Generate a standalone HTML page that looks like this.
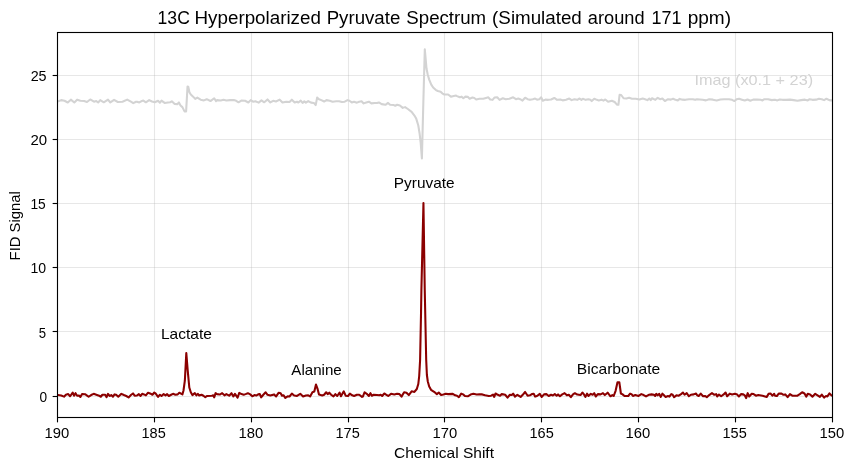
<!DOCTYPE html>
<html>
<head>
<meta charset="utf-8">
<title>13C Hyperpolarized Pyruvate Spectrum</title>
<style>
html,body{margin:0;padding:0;background:#ffffff;}
body{width:855px;height:470px;overflow:hidden;font-family:"Liberation Sans",sans-serif;}
svg{display:block;will-change:transform;}
</style>
</head>
<body>
<svg width="855" height="470" viewBox="0 0 855 470">
<rect x="0" y="0" width="855" height="470" fill="#ffffff"/>
<g stroke="#b0b0b0" stroke-opacity="0.3" stroke-width="1.11" fill="none">
<line x1="57.50" y1="32.50" x2="57.50" y2="417.50"/>
<line x1="154.50" y1="32.50" x2="154.50" y2="417.50"/>
<line x1="251.50" y1="32.50" x2="251.50" y2="417.50"/>
<line x1="348.50" y1="32.50" x2="348.50" y2="417.50"/>
<line x1="444.50" y1="32.50" x2="444.50" y2="417.50"/>
<line x1="541.50" y1="32.50" x2="541.50" y2="417.50"/>
<line x1="638.50" y1="32.50" x2="638.50" y2="417.50"/>
<line x1="735.50" y1="32.50" x2="735.50" y2="417.50"/>
<line x1="832.50" y1="32.50" x2="832.50" y2="417.50"/>
<line x1="57.50" y1="396.50" x2="832.50" y2="396.50"/>
<line x1="57.50" y1="331.50" x2="832.50" y2="331.50"/>
<line x1="57.50" y1="267.50" x2="832.50" y2="267.50"/>
<line x1="57.50" y1="203.50" x2="832.50" y2="203.50"/>
<line x1="57.50" y1="139.50" x2="832.50" y2="139.50"/>
<line x1="57.50" y1="75.50" x2="832.50" y2="75.50"/>
</g>
<clipPath id="ax"><rect x="57.50" y="32.50" width="775.00" height="385.00"/></clipPath>
<g clip-path="url(#ax)" fill="none" stroke-linejoin="round" stroke-linecap="butt" stroke-width="2.08">
<path d="M57.50,101.33 L58.40,101.33 L61.21,100.12 L64.49,100.77 L67.76,102.46 L70.85,99.65 L74.31,102.46 L77.12,99.65 L80.39,100.77 L84.13,101.05 L86.94,101.99 L90.22,99.46 L93.96,101.71 L96.30,101.05 L98.17,102.46 L100.23,100.12 L103.78,102.27 L107.99,99.65 L110.33,102.46 L114.08,99.84 L117.82,101.99 L122.50,101.71 L127.18,99.65 L130.92,101.71 L133.26,103.20 L136.06,101.71 L137.00,101.71 L139.34,102.46 L141.21,101.33 L143.36,100.58 L145.89,102.27 L149.16,100.12 L151.97,101.52 L154.78,102.27 L158.05,100.77 L159.92,102.64 L161.51,100.58 L164.60,102.92 L167.88,102.46 L170.22,102.27 L171.81,101.33 L174.43,103.86 L177.23,104.14 L178.92,102.46 L180.51,105.45 L182.38,107.13 L184.53,111.35 L186.12,111.35 L187.53,86.55 L188.27,86.74 L189.40,92.16 L190.80,94.50 L193.14,96.65 L195.20,98.90 L197.35,97.59 L200.63,99.65 L203.90,100.40 L206.71,99.18 L210.45,101.05 L214.19,98.25 L216.06,101.05 L217.00,100.12 L220.74,100.58 L223.55,99.84 L226.36,100.58 L230.10,100.12 L233.84,100.12 L236.18,100.77 L238.52,102.27 L241.33,100.58 L245.07,100.77 L248.35,102.46 L250.68,100.12 L253.02,101.71 L255.36,101.33 L258.64,102.64 L261.44,100.40 L264.25,102.27 L267.53,99.46 L270.33,102.46 L273.14,100.77 L275.95,101.52 L279.69,99.65 L282.50,102.46 L286.24,101.71 L289.51,101.99 L291.85,99.65 L294.66,102.46 L297.00,101.71 L298.40,102.46 L300.74,100.58 L302.61,102.92 L304.30,101.33 L305.89,102.64 L308.23,101.05 L311.04,102.64 L313.84,102.92 L315.71,105.08 L317.12,97.59 L318.99,99.18 L321.33,100.12 L324.13,101.52 L326.47,100.12 L329.75,100.77 L332.56,101.71 L336.30,101.33 L339.11,101.33 L341.91,101.99 L344.72,101.71 L347.53,100.12 L349.40,100.77 L351.74,102.46 L354.08,101.71 L356.88,102.64 L359.22,101.71 L361.56,101.33 L363.62,103.39 L366.24,102.46 L368.86,101.71 L371.39,103.39 L374.66,102.92 L377.00,102.92 L378.87,102.46 L381.68,104.14 L385.42,104.80 L388.04,102.92 L390.10,104.80 L393.84,105.08 L395.25,105.73 L397.12,104.80 L399.92,105.45 L402.73,107.88 L405.07,107.13 L407.88,109.01 L411.62,111.81 L414.43,115.56 L416.30,118.83 L418.30,125.50 L419.60,133.50 L420.70,142.90 L421.90,158.50 L423.35,102.00 L424.80,49.40 L426.50,68.50 L427.70,74.50 L429.20,79.60 L431.27,84.68 L433.14,87.49 L435.95,90.11 L437.82,91.04 L440.63,91.70 L442.50,93.57 L444.37,94.50 L448.11,94.50 L450.92,96.65 L453.73,95.91 L456.06,95.53 L457.00,96.09 L459.81,97.31 L461.68,96.65 L463.36,98.25 L465.42,96.65 L467.76,96.84 L469.63,98.71 L472.44,97.59 L474.31,97.96 L476.18,99.46 L479.46,98.71 L483.20,98.71 L486.01,97.96 L488.35,97.31 L490.22,99.46 L492.56,99.84 L494.43,97.59 L497.23,97.31 L499.57,99.84 L502.85,98.25 L505.65,99.18 L509.40,98.71 L513.14,97.31 L515.95,99.18 L518.29,98.53 L520.16,99.18 L522.50,100.58 L525.12,97.78 L527.64,99.18 L529.98,99.84 L532.79,99.18 L535.13,98.53 L537.00,99.65 L539.34,99.18 L541.21,97.31 L542.80,100.77 L545.42,99.65 L548.23,99.84 L551.04,99.46 L554.31,97.96 L557.12,99.84 L560.39,99.46 L562.73,100.40 L566.01,99.84 L569.28,98.53 L571.62,100.12 L574.43,99.18 L577.23,99.84 L579.57,98.53 L581.44,99.84 L582.85,98.71 L585.65,99.84 L588.46,99.18 L590.33,99.65 L591.74,101.05 L594.26,98.71 L596.88,99.84 L598.75,100.40 L601.56,99.65 L603.43,100.58 L605.30,99.46 L608.11,101.71 L611.85,100.77 L614.66,101.99 L617.00,104.60 L618.40,104.80 L619.60,94.80 L621.20,95.00 L623.55,98.25 L626.36,98.53 L629.16,97.78 L631.97,98.71 L635.71,98.71 L639.46,99.46 L642.73,98.53 L645.07,99.18 L647.41,100.12 L649.28,98.53 L650.68,100.12 L652.09,98.25 L655.36,99.84 L657.70,97.78 L660.04,99.18 L662.38,98.53 L664.91,101.05 L667.99,99.18 L670.80,99.65 L673.14,98.71 L675.48,99.84 L677.82,100.40 L679.69,98.90 L682.50,99.65 L685.30,99.84 L689.05,99.18 L692.79,99.18 L695.13,99.84 L697.00,99.18 L699.81,99.46 L702.61,99.84 L705.89,100.40 L709.16,99.18 L712.91,99.65 L716.65,100.40 L720.39,99.46 L724.13,99.18 L728.81,99.18 L732.09,99.84 L734.43,101.05 L736.77,99.18 L739.11,98.71 L741.91,99.65 L744.72,100.58 L747.53,99.46 L750.33,100.77 L753.14,99.65 L756.88,99.46 L760.63,99.84 L762.50,100.40 L764.37,99.18 L768.11,99.18 L771.85,100.12 L774.19,99.84 L775.00,99.84 L777.34,100.40 L779.68,99.46 L782.49,99.84 L786.23,99.84 L789.97,99.65 L793.71,100.12 L797.46,100.77 L801.20,100.12 L804.94,99.65 L807.75,100.40 L809.62,99.18 L812.43,99.84 L816.17,99.65 L818.98,98.71 L821.78,99.18 L824.12,100.12 L826.46,98.71 L829.27,100.12 L831.14,100.40 L832.50,100.12" stroke="#d3d3d3"/>
<path d="M57.50,395.05 L57.94,395.05 L61.21,395.52 L64.02,396.64 L65.89,394.77 L68.23,394.12 L70.10,396.27 L72.72,392.53 L74.03,395.71 L75.53,393.18 L77.12,395.71 L78.99,395.52 L80.39,396.92 L82.08,393.93 L85.07,394.21 L86.75,395.33 L88.63,396.74 L91.15,395.05 L93.68,393.84 L96.30,394.77 L99.11,395.71 L100.79,396.74 L102.38,394.77 L105.19,394.77 L106.59,397.20 L107.99,393.84 L109.58,395.99 L111.27,395.05 L112.95,396.74 L114.54,394.40 L116.13,394.77 L118.29,396.74 L121.37,393.84 L123.90,395.05 L126.24,395.99 L128.58,397.39 L130.92,395.05 L132.98,393.46 L134.66,395.71 L137.00,395.52 L138.87,394.12 L140.56,395.99 L142.15,393.84 L144.02,394.40 L145.89,395.33 L148.04,392.71 L150.10,393.46 L152.44,394.77 L154.31,392.53 L155.71,393.65 L158.05,396.92 L159.92,394.77 L161.51,395.99 L163.67,394.12 L165.54,395.33 L167.13,394.12 L168.81,395.99 L171.15,394.77 L173.02,393.84 L175.36,394.77 L177.70,394.40 L179.29,392.71 L180.98,393.65 L182.40,394.40 L183.50,390.50 L184.85,380.70 L186.30,353.00 L187.75,370.90 L189.30,387.50 L190.80,392.20 L192.40,395.10 L194.82,393.18 L196.42,395.33 L197.82,393.84 L199.22,395.52 L201.56,394.77 L203.43,395.71 L205.30,397.20 L207.18,395.99 L211.85,395.71 L213.26,395.33 L214.19,397.39 L215.60,393.18 L217.00,394.12 L219.81,394.58 L222.15,393.18 L224.49,395.33 L226.36,394.12 L229.16,395.71 L231.50,393.18 L233.37,396.46 L234.96,393.84 L237.58,397.58 L239.27,392.90 L241.51,394.12 L243.67,394.77 L245.54,394.12 L247.88,393.18 L250.22,394.40 L252.37,396.27 L254.43,395.05 L256.30,395.52 L258.17,394.40 L259.85,394.12 L261.16,397.39 L263.32,394.77 L265.65,392.25 L267.53,394.77 L270.33,395.52 L274.08,394.40 L276.13,396.46 L278.75,392.71 L280.63,393.18 L282.03,395.71 L283.62,395.33 L285.30,397.86 L287.64,396.27 L289.51,396.46 L291.85,393.65 L294.19,395.52 L297.00,395.99 L300.27,393.84 L303.08,396.46 L305.89,395.52 L308.23,395.33 L310.10,396.46 L312.44,392.25 L314.31,391.59 L315.99,384.48 L317.58,388.97 L318.99,394.58 L322.26,395.52 L324.13,394.77 L326.19,392.25 L327.69,394.12 L329.28,392.71 L331.15,394.77 L333.49,396.46 L335.36,394.12 L337.23,395.99 L339.57,392.71 L340.98,396.27 L343.78,391.31 L345.65,395.71 L347.99,395.99 L349.87,393.65 L352.20,395.33 L354.08,395.99 L356.88,394.77 L359.22,394.77 L362.03,396.92 L362.96,396.46 L364.56,392.25 L366.71,393.84 L368.86,395.99 L370.45,393.18 L371.85,395.71 L373.73,394.77 L377.00,395.05 L379.34,395.33 L380.74,394.77 L382.15,395.99 L384.30,393.46 L386.36,394.77 L388.23,395.99 L391.04,393.84 L394.31,394.58 L397.12,393.84 L399.46,394.12 L401.51,396.64 L404.13,392.25 L406.47,392.71 L408.81,395.05 L411.62,391.31 L414.43,391.96 L416.80,389.00 L418.30,384.00 L419.20,376.00 L420.10,360.00 L421.05,312.00 L421.40,290.00 L423.45,203.04 L424.75,290.00 L426.20,360.00 L426.90,375.00 L427.80,381.50 L429.20,386.50 L431.00,389.80 L434.10,391.80 L436.88,394.12 L438.75,392.53 L441.09,395.05 L443.43,394.58 L445.77,393.84 L448.11,394.12 L452.79,393.84 L455.13,395.33 L457.00,395.71 L458.87,397.20 L461.21,393.65 L463.08,394.40 L464.95,395.99 L467.76,396.27 L470.57,394.58 L473.37,393.84 L476.65,394.58 L479.46,394.40 L482.26,394.40 L485.07,395.33 L488.81,395.99 L491.15,395.71 L493.02,394.58 L494.24,396.92 L495.55,393.46 L497.23,394.58 L500.04,395.71 L501.73,394.12 L505.19,394.77 L507.53,397.58 L509.87,394.77 L511.74,395.05 L513.14,393.65 L515.01,396.64 L517.35,394.77 L520.63,396.92 L522.50,395.05 L525.12,391.96 L527.64,395.71 L529.98,395.33 L531.85,394.12 L533.73,393.84 L535.13,396.64 L537.00,395.99 L539.81,393.84 L541.68,396.92 L544.02,394.40 L546.36,394.12 L548.70,395.99 L551.04,394.77 L552.91,395.52 L554.78,394.12 L556.65,395.71 L558.05,394.40 L559.92,396.27 L562.26,394.40 L564.60,393.18 L566.94,395.33 L568.81,394.77 L570.87,397.20 L573.02,394.40 L574.89,393.18 L577.23,394.58 L580.51,395.05 L582.38,392.53 L583.78,394.12 L585.47,396.92 L587.06,393.65 L588.46,395.99 L590.80,393.84 L592.67,394.77 L594.26,393.18 L595.76,396.46 L597.82,394.12 L600.63,394.40 L602.96,393.18 L604.84,395.05 L607.64,392.71 L610.45,396.27 L612.32,395.05 L613.70,396.00 L615.60,390.80 L617.50,382.20 L619.30,382.20 L620.90,393.50 L622.60,394.40 L624.49,395.99 L628.23,395.99 L630.10,393.65 L631.50,394.12 L632.91,395.99 L635.25,395.05 L638.52,395.99 L641.33,394.12 L643.67,395.05 L646.01,396.46 L648.81,394.77 L651.62,394.40 L653.96,394.77 L655.18,395.99 L656.30,393.84 L657.70,395.33 L659.11,393.84 L660.79,396.92 L662.38,393.65 L663.78,395.05 L665.65,396.92 L667.99,395.99 L669.40,396.64 L671.27,394.12 L672.67,394.77 L674.08,397.20 L676.42,395.33 L678.75,395.71 L681.09,394.12 L682.96,392.53 L684.56,394.77 L686.71,393.18 L688.86,396.27 L690.92,394.77 L693.73,394.40 L696.06,393.46 L697.00,395.05 L698.68,395.99 L700.74,393.65 L703.08,396.27 L704.95,395.99 L706.82,397.20 L709.16,395.05 L711.97,393.18 L714.31,394.77 L716.18,394.12 L717.12,396.46 L718.99,394.58 L721.14,396.27 L723.67,394.40 L725.54,392.53 L727.13,396.27 L729.75,393.65 L732.09,394.58 L734.89,393.84 L737.23,394.58 L738.92,396.46 L740.98,394.12 L743.32,394.40 L744.72,395.33 L746.12,398.14 L747.71,393.18 L749.21,396.46 L751.74,393.84 L753.61,394.12 L755.95,395.71 L758.29,395.05 L762.50,395.71 L766.71,396.92 L768.58,393.84 L770.45,393.46 L772.32,395.71 L774.19,393.84 L775.00,395.71 L776.87,395.99 L778.74,393.65 L781.55,393.65 L783.42,394.77 L785.29,394.40 L787.63,397.20 L789.97,394.12 L792.31,395.71 L795.12,395.71 L797.46,395.71 L799.80,394.12 L802.13,392.25 L804.47,393.46 L806.35,396.64 L807.75,393.84 L810.09,394.58 L812.43,396.64 L815.23,393.84 L817.57,395.33 L819.91,396.92 L821.78,394.58 L824.12,397.58 L825.99,395.99 L827.40,396.46 L829.46,393.46 L831.14,395.05 L832.50,395.99" stroke="#8b0000"/>
</g>
<g stroke="#000" stroke-width="1.11">
<line x1="57.50" y1="417.50" x2="57.50" y2="422.36"/>
<line x1="154.50" y1="417.50" x2="154.50" y2="422.36"/>
<line x1="251.50" y1="417.50" x2="251.50" y2="422.36"/>
<line x1="348.50" y1="417.50" x2="348.50" y2="422.36"/>
<line x1="444.50" y1="417.50" x2="444.50" y2="422.36"/>
<line x1="541.50" y1="417.50" x2="541.50" y2="422.36"/>
<line x1="638.50" y1="417.50" x2="638.50" y2="422.36"/>
<line x1="735.50" y1="417.50" x2="735.50" y2="422.36"/>
<line x1="832.50" y1="417.50" x2="832.50" y2="422.36"/>
<line x1="52.64" y1="396.50" x2="57.50" y2="396.50"/>
<line x1="52.64" y1="331.50" x2="57.50" y2="331.50"/>
<line x1="52.64" y1="267.50" x2="57.50" y2="267.50"/>
<line x1="52.64" y1="203.50" x2="57.50" y2="203.50"/>
<line x1="52.64" y1="139.50" x2="57.50" y2="139.50"/>
<line x1="52.64" y1="75.50" x2="57.50" y2="75.50"/>
</g>
<rect x="57.50" y="32.50" width="775.00" height="385.00" fill="none" stroke="#000" stroke-width="1.11"/>
<g font-family="Liberation Sans, sans-serif" style="font-kerning:none">
<text x="44.52" y="438.00" font-size="14.60" textLength="24.71" lengthAdjust="spacingAndGlyphs" fill="#000" >190</text>
<text x="141.54" y="438.00" font-size="14.60" textLength="24.27" lengthAdjust="spacingAndGlyphs" fill="#000" >185</text>
<text x="238.52" y="438.00" font-size="14.60" textLength="24.71" lengthAdjust="spacingAndGlyphs" fill="#000" >180</text>
<text x="335.54" y="438.00" font-size="14.60" textLength="24.27" lengthAdjust="spacingAndGlyphs" fill="#000" >175</text>
<text x="432.52" y="438.00" font-size="14.60" textLength="24.71" lengthAdjust="spacingAndGlyphs" fill="#000" >170</text>
<text x="529.54" y="438.00" font-size="14.60" textLength="24.27" lengthAdjust="spacingAndGlyphs" fill="#000" >165</text>
<text x="625.52" y="438.00" font-size="14.60" textLength="24.71" lengthAdjust="spacingAndGlyphs" fill="#000" >160</text>
<text x="722.54" y="438.00" font-size="14.60" textLength="24.27" lengthAdjust="spacingAndGlyphs" fill="#000" >155</text>
<text x="819.52" y="438.00" font-size="14.60" textLength="24.71" lengthAdjust="spacingAndGlyphs" fill="#000" >150</text>
<text x="39.62" y="402.00" font-size="14.60" textLength="7.61" lengthAdjust="spacingAndGlyphs" fill="#000" >0</text>
<text x="38.67" y="338.00" font-size="14.60" textLength="7.31" lengthAdjust="spacingAndGlyphs" fill="#000" >5</text>
<text x="30.43" y="273.00" font-size="14.60" textLength="15.64" lengthAdjust="spacingAndGlyphs" fill="#000" >10</text>
<text x="30.45" y="209.00" font-size="14.60" textLength="15.33" lengthAdjust="spacingAndGlyphs" fill="#000" >15</text>
<text x="30.51" y="145.00" font-size="14.60" textLength="16.68" lengthAdjust="spacingAndGlyphs" fill="#000" >20</text>
<text x="30.63" y="81.00" font-size="14.60" textLength="15.96" lengthAdjust="spacingAndGlyphs" fill="#000" >25</text>
<text x="394.01" y="458.00" font-size="14.60" textLength="100.00" lengthAdjust="spacingAndGlyphs" fill="#000" >Chemical Shift</text>
<g transform="translate(20,259.5) rotate(-90)">
<text x="-0.92" y="0.00" font-size="14.60" textLength="69.21" lengthAdjust="spacingAndGlyphs" fill="#000" >FID Signal</text>
</g>
<text x="157.56" y="24.00" font-size="17.50" textLength="32.31" lengthAdjust="spacingAndGlyphs" fill="#000" >13C</text>
<text x="194.56" y="24.00" font-size="17.50" textLength="126.35" lengthAdjust="spacingAndGlyphs" fill="#000" >Hyperpolarized</text>
<text x="326.67" y="24.00" font-size="17.50" textLength="73.66" lengthAdjust="spacingAndGlyphs" fill="#000" >Pyruvate</text>
<text x="406.30" y="24.00" font-size="17.50" textLength="79.88" lengthAdjust="spacingAndGlyphs" fill="#000" >Spectrum</text>
<text x="492.14" y="24.00" font-size="17.50" textLength="89.67" lengthAdjust="spacingAndGlyphs" fill="#000" >(Simulated</text>
<text x="587.83" y="24.00" font-size="17.50" textLength="56.75" lengthAdjust="spacingAndGlyphs" fill="#000" >around</text>
<text x="651.53" y="24.00" font-size="17.50" textLength="30.05" lengthAdjust="spacingAndGlyphs" fill="#000" >171</text>
<text x="687.67" y="24.00" font-size="17.50" textLength="43.41" lengthAdjust="spacingAndGlyphs" fill="#000" >ppm)</text>
<text x="160.93" y="339.00" font-size="14.60" textLength="50.96" lengthAdjust="spacingAndGlyphs" fill="#000" >Lactate</text>
<text x="291.37" y="375.00" font-size="14.60" textLength="50.40" lengthAdjust="spacingAndGlyphs" fill="#000" >Alanine</text>
<text x="393.84" y="188.00" font-size="14.60" textLength="60.75" lengthAdjust="spacingAndGlyphs" fill="#000" >Pyruvate</text>
<text x="576.72" y="374.00" font-size="14.60" textLength="83.48" lengthAdjust="spacingAndGlyphs" fill="#000" >Bicarbonate</text>
<text x="694.40" y="85.00" font-size="14.60" textLength="118.71" lengthAdjust="spacingAndGlyphs" fill="#d3d3d3" >Imag (x0.1 + 23)</text>
</g>
</svg>
</body>
</html>
